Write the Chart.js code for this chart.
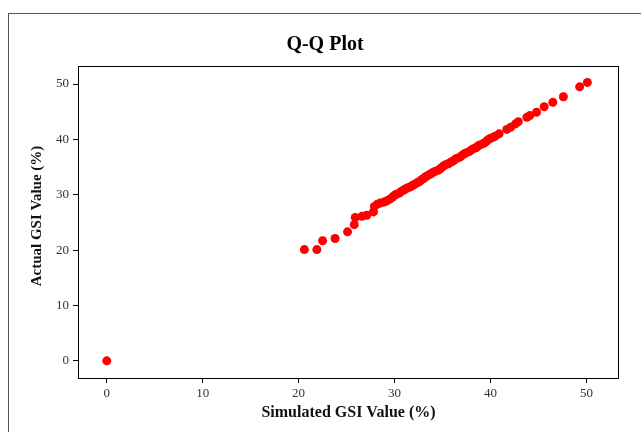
<!DOCTYPE html>
<html>
<head>
<meta charset="utf-8">
<title>Q-Q Plot</title>
<script src="https://cdn.jsdelivr.net/npm/chart.js@4/dist/chart.umd.min.js"></script>
<style>
  html, body { margin: 0; padding: 0; background: #ffffff; }
  #wrap { width: 641px; height: 432px; position: relative; }
</style>
</head>
<body>
<div id="wrap"><canvas id="qq" width="641" height="432"></canvas></div>
<script>
// Simulated GSI quantiles (%) on the horizontal axis
const simulatedGSI = [
  0.0,
  20.6, 21.9, 22.5, 23.8, 25.1, 25.8, 25.9, 26.6, 27.1, 27.8,
  27.9, 28.2, 28.5, 28.9, 29.2, 29.5, 29.8, 30.0, 30.2, 30.5,
  30.7, 30.9, 31.1, 31.3, 31.6, 31.8, 32.0, 32.2, 32.4, 32.6,
  32.8, 33.0, 33.2, 33.4, 33.6, 33.8, 34.0, 34.2, 34.5, 34.7,
  34.9, 35.1, 35.3, 35.6, 35.8, 36.0, 36.2, 36.4, 36.7, 36.9,
  37.1, 37.3, 37.5, 37.8, 38.0, 38.2, 38.5, 38.7, 38.9, 39.2,
  39.4, 39.6, 39.8, 40.0, 40.3, 40.5, 40.9, 41.7, 42.1, 42.6,
  42.9, 43.8, 44.1, 44.8, 45.6, 46.5, 47.6, 49.3, 50.1
];

// Actual GSI quantiles (%) on the vertical axis
const actualGSI = [
  0.0,
  20.1, 20.1, 21.7, 22.1, 23.3, 24.6, 25.9, 26.1, 26.3, 26.9,
  27.9, 28.3, 28.5, 28.7, 28.9, 29.2, 29.6, 29.9, 30.1, 30.3,
  30.6, 30.8, 31.0, 31.2, 31.4, 31.6, 31.8, 32.0, 32.2, 32.4,
  32.7, 32.9, 33.2, 33.4, 33.6, 33.8, 34.0, 34.2, 34.4, 34.6,
  34.9, 35.2, 35.4, 35.6, 35.8, 36.0, 36.2, 36.5, 36.7, 36.9,
  37.2, 37.4, 37.6, 37.8, 38.1, 38.3, 38.5, 38.8, 39.0, 39.2,
  39.4, 39.7, 40.0, 40.2, 40.4, 40.6, 41.0, 41.8, 42.2, 42.8,
  43.2, 44.0, 44.3, 44.9, 45.9, 46.7, 47.7, 49.5, 50.3
];

// Axis tick labels
const xTicks = [0, 10, 20, 30, 40, 50];
const yTicks = [0, 10, 20, 30, 40, 50];

const points = simulatedGSI.map((x, i) => ({ x: x, y: actualGSI[i] }));

const serif = "'Liberation Serif', 'Times New Roman', serif";

// Outer figure frame, the closed box around the plotting region,
// and the vertical axis title
const framePlugin = {
  id: 'frame',
  beforeDraw(chart) {
    const ctx = chart.ctx;
    ctx.save();
    ctx.strokeStyle = '#555555';
    ctx.lineWidth = 1;
    ctx.strokeRect(8.5, 13.5, 700, 500);
    ctx.restore();
  },
  afterDraw(chart) {
    const a = chart.chartArea;
    const ctx = chart.ctx;
    ctx.save();
    ctx.strokeStyle = '#000000';
    ctx.lineWidth = 1;
    ctx.strokeRect(Math.round(a.left) + 0.5, Math.round(a.top) + 0.5,
                   Math.round(a.right - a.left) - 1, Math.round(a.bottom - a.top));

    ctx.translate(37, 216);
    ctx.rotate(-Math.PI / 2);
    ctx.fillStyle = '#111111';
    ctx.font = 'bold 15px ' + serif;
    ctx.textAlign = 'center';
    ctx.textBaseline = 'middle';
    ctx.fillText('Actual GSI Value (%)', 0, 0);
    ctx.restore();
  }
};

new Chart(document.getElementById('qq'), {
  type: 'scatter',
  data: {
    datasets: [{
      data: points,
      backgroundColor: '#ff0000',
      borderWidth: 0,
      pointRadius: 4.5,
      pointHoverRadius: 4.5
    }]
  },
  options: {
    responsive: false,
    animation: false,
    events: [],
    layout: { padding: { left: 9, right: 0, top: 0, bottom: 0 } },
    plugins: {
      legend: { display: false },
      tooltip: { enabled: false },
      title: {
        display: true,
        text: 'Q-Q Plot',
        color: '#000000',
        font: { family: serif, size: 20, weight: 'bold', lineHeight: 1.2 },
        padding: { top: 33, bottom: 9 }
      }
    },
    scales: {
      x: {
        type: 'linear',
        min: -3.0,
        max: 53.4,
        afterBuildTicks(scale) { scale.ticks = xTicks.map(v => ({ value: v })); },
        afterFit(scale) { scale.height = 54; },
        grid: { display: true, drawOnChartArea: false, drawTicks: true, tickLength: 5, color: '#000000' },
        border: { display: false },
        ticks: {
          color: '#333333',
          padding: 3,
          font: { family: serif, size: 13 },
          maxRotation: 0
        },
        title: {
          display: true,
          text: 'Simulated GSI Value (%)',
          color: '#111111',
          font: { family: serif, size: 16, weight: 'bold', lineHeight: 1.2 },
          padding: { top: 0, bottom: 10 }
        }
      },
      y: {
        type: 'linear',
        min: -3.1,
        max: 53.26,
        afterBuildTicks(scale) { scale.ticks = yTicks.map(v => ({ value: v })); },
        afterFit(scale) { scale.width = 69; },
        grid: { display: true, drawOnChartArea: false, drawTicks: true, tickLength: 5, color: '#000000' },
        border: { display: false },
        ticks: {
          color: '#333333',
          padding: 4,
          font: { family: serif, size: 13 }
        },
        title: { display: false }
      },
      // empty right-hand margin column
      yRight: {
        type: 'linear',
        position: 'right',
        min: 0,
        max: 1,
        afterFit(scale) { scale.width = 22; },
        grid: { display: false },
        border: { display: false },
        ticks: { display: false }
      }
    }
  },
  plugins: [framePlugin]
});
</script>
</body>
</html>
